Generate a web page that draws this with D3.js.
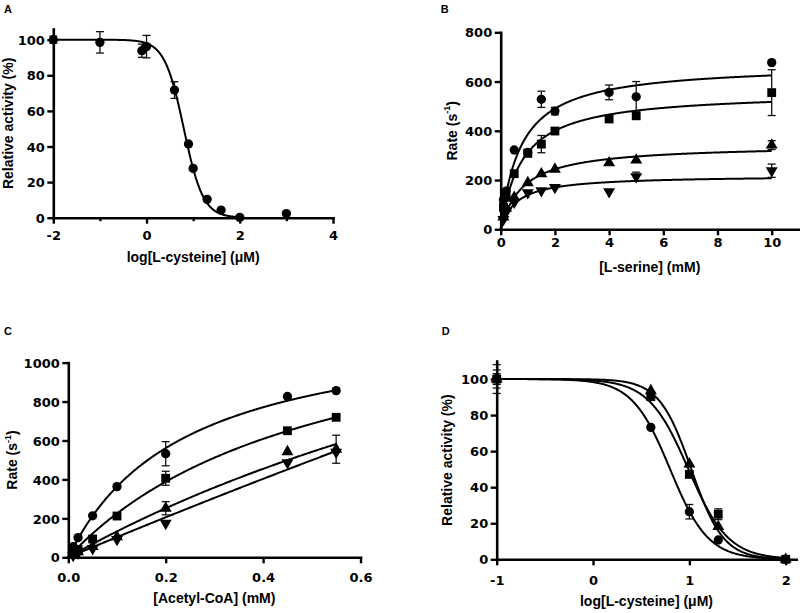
<!DOCTYPE html>
<html><head><meta charset="utf-8">
<script src="https://cdn.jsdelivr.net/npm/d3@7"></script>
<style>
body{margin:0;background:#fff}
svg{display:block}
</style>
</head><body>
<svg id="c" width="800" height="613"></svg>
<script>
// ---------- Panel A : single inhibition curve ----------
const A_x   = [-2, -1, -0.1, 0, 0.6, 0.9, 1.0, 1.3, 1.6, 2.0, 3.0];
const A_y   = [100, 98.5, 93.8, 96.1, 71.7, 41.4, 27.7, 10.3, 4.3, 0.2, 2.3];
const A_err = [2, 6, 3.7, 6.3, 4.7, 0, 0, 0, 0, 0, 0];
const A_fit = [0.8, 2.1];            // logIC50, Hill slope
const A_xTicks = [-2, 0, 2, 4];
const A_xMinor = [-1, 1, 3];
const A_yTicks = [0, 20, 40, 60, 80, 100];

// ---------- Panel B : L-serine saturation ----------
const B_x = [0.1, 0.2, 0.5, 1, 1.5, 2, 4, 5, 10];
const B_circle    = [120, 155, 322, 312, 528, 480, 556, 538, 677];
const B_circleErr = [0, 0, 0, 0, 33, 15, 30, 62, 0];
const B_square    = [90, 130, 226, 309, 346, 399, 448, 461, 555];
const B_squareErr = [0, 0, 0, 15, 35, 0, 0, 0, 93];
const B_up        = [50, 85, 130, 189, 225, 244, 270, 281, 342];
const B_upErr     = [0, 0, 0, 0, 0, 0, 0, 0, 18];
const B_down      = [40, 70, 110, 149, 157, 170, 153, 214, 238];
const B_downErr   = [0, 0, 0, 0, 0, 0, 0, 18, 27];
const B_Vmax = [671, 558, 344, 219];
const B_Km   = [0.74, 0.79, 0.82, 0.575];
const B_xTicks = [0, 2, 4, 6, 8, 10];
const B_yTicks = [0, 200, 400, 600, 800];

// ---------- Panel C : acetyl-CoA saturation ----------
const C_x = [0.01, 0.02, 0.05, 0.1, 0.2, 0.45, 0.55];
const C_circle    = [55, 101, 213, 363, 532, 826, 856];
const C_circleErr = [0, 0, 0, 0, 62, 0, 0];
const C_square    = [30, 40, 94, 212, 406, 650, 719];
const C_squareErr = [0, 0, 0, 0, 36, 0, 0];
const C_up        = [15, 28, 55, 105, 252, 542, 555];
const C_upErr     = [0, 0, 0, 0, 34, 0, 72];
const C_down      = [10, 22, 45, 92, 175, 486, 540];
const C_downErr   = [0, 0, 0, 0, 0, 0, 0];
const C_Vmax = [1231, 1403, 2317, 10473];
const C_Km   = [0.239, 0.523, 1.64, 10];
const C_xTicks = [0, 0.2, 0.4, 0.6];
const C_yTicks = [0, 200, 400, 600, 800, 1000];

// ---------- Panel D : inhibition curves ----------
const D_x = [-1, 0.6, 1.0, 1.3, 2];
const D_circle    = [100, 73.2, 26.4, 10.7, 0];
const D_circleErr = [5, 0, 4, 0, 0];
const D_square    = [100, 90.2, 47.1, 25, 0];
const D_squareErr = [8, 0, 0, 3, 0];
const D_up        = [100, 93.5, 52.9, 18.1, 0];
const D_upErr     = [3, 0, 0, 0, 0];
const D_logIC50 = [0.8, 0.99, 1.02];
const D_hill    = [2.2, 2.1, 2.6];
const D_xTicks = [-1, 0, 1, 2];
const D_yTicks = [0, 20, 40, 60, 80, 100];

// ---------- drawing ----------
const svg = d3.select("#c");
const TITLE_FONT = "'Liberation Sans', Arial, sans-serif";
const TICK_FONT = "'DejaVu Sans', sans-serif";

const shapes = {
  circle: {type: d3.symbolCircle, size: 68, rot: 0},
  square: {type: d3.symbolSquare, size: 78, rot: 0},
  up:     {type: d3.symbolTriangle, size: 62, rot: 0},
  down:   {type: d3.symbolTriangle, size: 62, rot: 180}
};
const sig = (x, c, h) => 100 / (1 + Math.pow(10, (x - c) * h));
const mm = (x, V, K) => V * x / (K + x);

function panel(o) {
  const g = svg.append("g");
  const x = d3.scaleLinear().domain(o.xDomain).range(o.xRange);
  const y = d3.scaleLinear().domain(o.yDomain).range(o.yRange);
  const y0 = y(0), x0 = x(o.xDomain[0]);

  // axes
  const gx = g.append("g").attr("transform", `translate(0,${y0})`)
    .call(d3.axisBottom(x).tickValues(o.xTicks).tickFormat(o.xFmt).tickSize(6).tickSizeOuter(0));
  if (o.xMinor) {
    g.append("g").attr("transform", `translate(0,${y0})`)
      .call(d3.axisBottom(x).tickValues(o.xMinor).tickFormat("").tickSize(3.5).tickSizeOuter(0))
      .select(".domain").remove();
  }
  const gy = g.append("g").attr("transform", `translate(${x0},0)`)
    .call(d3.axisLeft(y).tickValues(o.yTicks).tickFormat(d => String(d)).tickSize(6).tickSizeOuter(0));
  g.selectAll(".domain").attr("stroke", "#000").attr("stroke-width", 2.6).attr("stroke-linecap", "square");
  g.selectAll(".tick line").attr("stroke", "#000").attr("stroke-width", 2.4);
  g.selectAll(".tick text").attr("fill", "#000").attr("font-family", TICK_FONT)
    .attr("font-weight", "bold").attr("font-size", 13);
  gx.selectAll(".tick text").attr("y", o.xLabOff).attr("dy", 0);
  gy.selectAll(".tick text").attr("x", -8.5).attr("dy", "0.36em");

  // fitted curves
  o.curves.forEach(c => {
    const n = 400, xs = d3.range(n + 1).map(i => c.x0 + (c.x1 - c.x0) * i / n);
    g.append("path").datum(xs)
      .attr("d", d3.line().x(d => x(d)).y(d => y(c.f(d))))
      .attr("fill", "none").attr("stroke", "#000").attr("stroke-width", 2);
  });

  // error bars
  o.series.forEach(s => {
    s.y.forEach((v, i) => {
      const e = s.err[i]; if (!e) return;
      const px = x(s.x[i]);
      g.append("line").attr("x1", px).attr("x2", px).attr("y1", y(v - e)).attr("y2", y(v + e))
        .attr("stroke", "#111").attr("stroke-width", 1.3);
      [v - e, v + e].forEach(w => g.append("line").attr("x1", px - 4).attr("x2", px + 4)
        .attr("y1", y(w)).attr("y2", y(w)).attr("stroke", "#111").attr("stroke-width", 1.3));
    });
  });

  // markers
  o.series.forEach(s => {
    const sh = shapes[s.shape];
    const sym = d3.symbol().type(sh.type).size(sh.size);
    g.selectAll(null).data(s.y).join("path")
      .attr("d", sym)
      .attr("transform", (v, i) => `translate(${x(s.x[i])},${y(v)}) rotate(${sh.rot})`)
      .attr("fill", "#000");
  });

  // titles
  const xt = g.append("text").attr("x", (o.xRange[0] + o.xRange[1]) / 2).attr("y", o.xTitleY)
    .attr("text-anchor", "middle").attr("font-family", TITLE_FONT).attr("font-weight", "bold")
    .attr("font-size", 14).attr("fill", "#000").text(o.xTitle);
  const yt = g.append("text").attr("transform", `translate(${o.yTitleX},${(o.yRange[0] + o.yRange[1]) / 2}) rotate(-90)`)
    .attr("text-anchor", "middle").attr("dy", "0.35em").attr("font-family", TITLE_FONT)
    .attr("font-weight", "bold").attr("font-size", 14).attr("fill", "#000");
  if (o.yTitleSup) {
    yt.append("tspan").text(o.yTitle);
    yt.append("tspan").attr("font-size", 9).attr("dy", "-0.7em").text(o.yTitleSup);
    yt.append("tspan").attr("dy", "0.45em").text(")");
  } else yt.text(o.yTitle);

  g.append("text").attr("x", o.letter[1]).attr("y", o.letter[2]).attr("font-family", TITLE_FONT)
    .attr("font-weight", "bold").attr("font-size", 11).attr("fill", "#000").text(o.letter[0]);
}

const intFmt = d => String(d);

panel({
  xDomain: [-2, 4], xRange: [53.3, 333], yDomain: [0, 106], yRange: [217.7, 29],
  xTicks: A_xTicks, xMinor: A_xMinor, yTicks: A_yTicks, xFmt: intFmt, xLabOff: 22.8,
  curves: [{x0: -2, x1: 2, f: v => sig(v, A_fit[0], A_fit[1])}],
  series: [{x: A_x, y: A_y, err: A_err, shape: "circle"}],
  xTitle: "log[L-cysteine] (\u03bcM)", xTitleY: 262, yTitle: "Relative activity (%)", yTitleX: 8,
  letter: ["A", 4, 12.7]
});

panel({
  xDomain: [0, 11], xRange: [500.7, 798.8], yDomain: [0, 800], yRange: [229.3, 32.3],
  xTicks: B_xTicks, yTicks: B_yTicks, xFmt: intFmt, xLabOff: 17.6,
  curves: B_Vmax.map((V, i) => ({x0: 0, x1: 10, f: v => mm(v, V, B_Km[i])})),
  series: [
    {x: B_x, y: B_circle, err: B_circleErr, shape: "circle"},
    {x: B_x, y: B_square, err: B_squareErr, shape: "square"},
    {x: B_x, y: B_up, err: B_upErr, shape: "up"},
    {x: B_x, y: B_down, err: B_downErr, shape: "down"}
  ],
  xTitle: "[L-serine] (mM)", xTitleY: 272, yTitle: "Rate (s", yTitleSup: "-1", yTitleX: 451.7,
  letter: ["B", 440.7, 12.7]
});

panel({
  xDomain: [0, 0.6], xRange: [68.3, 360.5], yDomain: [0, 1000], yRange: [557.3, 362.6],
  xTicks: C_xTicks, yTicks: C_yTicks, xFmt: d3.format(".1f"), xLabOff: 24.7,
  curves: C_Vmax.map((V, i) => ({x0: 0, x1: 0.55, f: v => mm(v, V, C_Km[i])})),
  series: [
    {x: C_x, y: C_circle, err: C_circleErr, shape: "circle"},
    {x: C_x, y: C_square, err: C_squareErr, shape: "square"},
    {x: C_x, y: C_up, err: C_upErr, shape: "up"},
    {x: C_x, y: C_down, err: C_downErr, shape: "down"}
  ],
  xTitle: "[Acetyl-CoA] (mM)", xTitleY: 603, yTitle: "Rate (s", yTitleSup: "-1", yTitleX: 12,
  letter: ["C", 4, 335]
});

panel({
  xDomain: [-1, 2.11], xRange: [496.7, 796.3], yDomain: [0, 110], yRange: [559.3, 361],
  xTicks: D_xTicks, yTicks: D_yTicks, xFmt: intFmt, xLabOff: 25.7,
  curves: D_logIC50.map((c, i) => ({x0: -1, x1: 2, f: v => sig(v, c, D_hill[i])})),
  series: [
    {x: D_x, y: D_circle, err: D_circleErr, shape: "circle"},
    {x: D_x, y: D_up, err: D_upErr, shape: "up"},
    {x: D_x, y: D_square, err: D_squareErr, shape: "square"}
  ],
  xTitle: "log[L-cysteine] (\u03bcM)", xTitleY: 606, yTitle: "Relative activity (%)", yTitleX: 447.5,
  letter: ["D", 441.7, 335]
});
</script>
</body></html>
